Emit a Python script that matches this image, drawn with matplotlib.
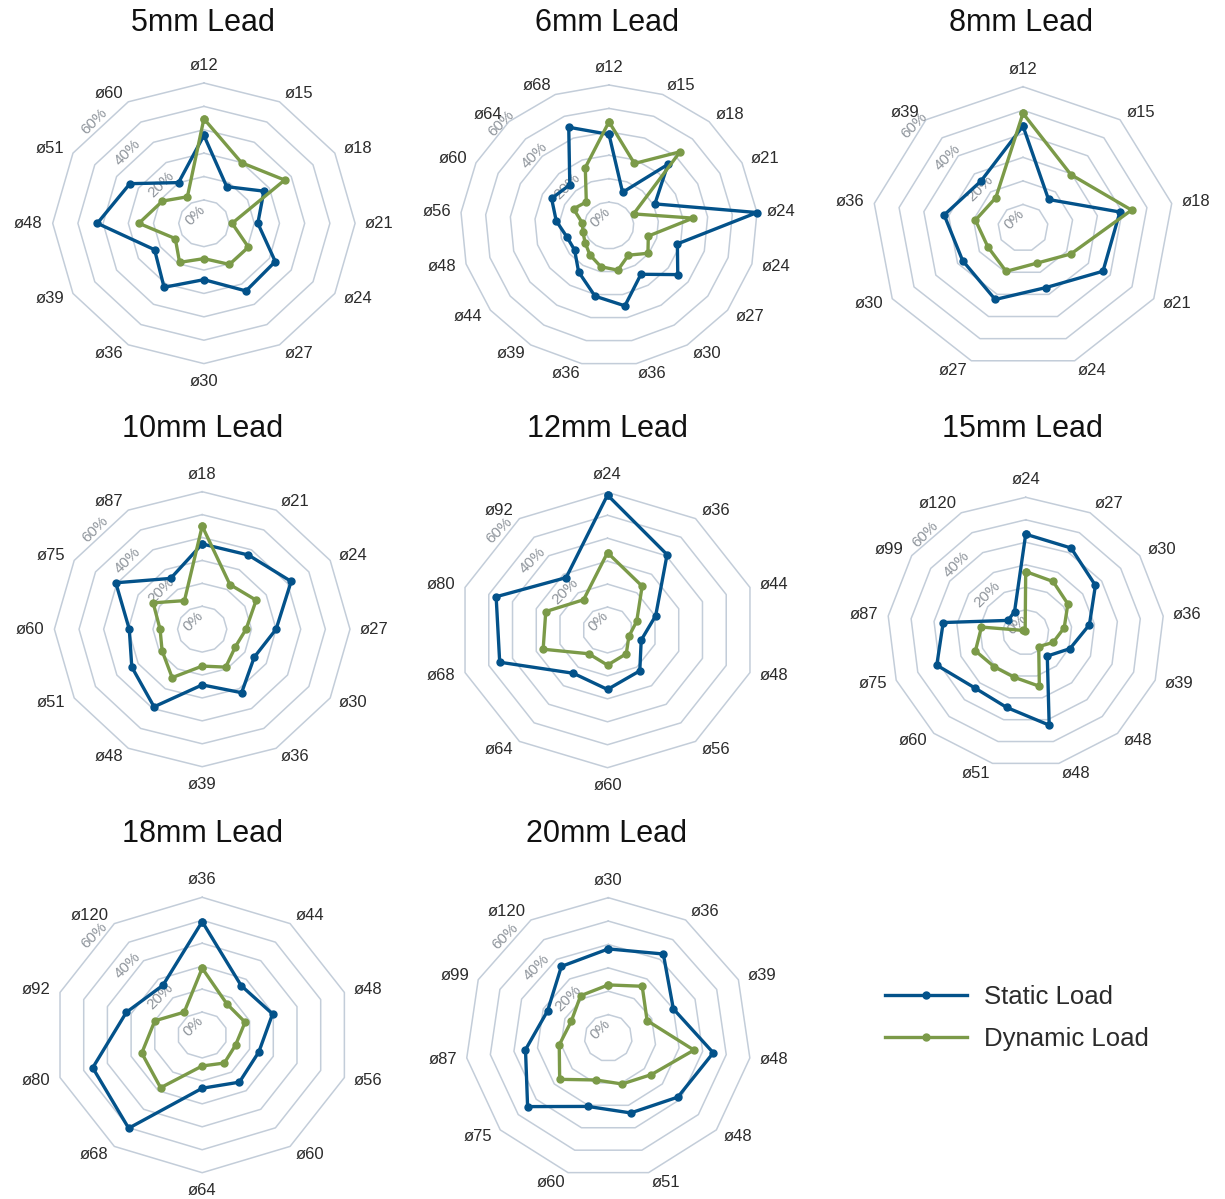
import numpy as np
import matplotlib
matplotlib.use("Agg")
import matplotlib.pyplot as plt
from matplotlib.transforms import offset_copy

plt.rcParams['font.family'] = ['Liberation Sans', 'DejaVu Sans']

# ---------------- data ----------------
titles = ["5mm Lead", "6mm Lead", "8mm Lead", "10mm Lead", "12mm Lead",
          "15mm Lead", "18mm Lead", "20mm Lead"]

cats_5 = ["ø12", "ø15", "ø18", "ø21", "ø24", "ø27", "ø30", "ø36", "ø39", "ø48", "ø51", "ø60"]
static_5 = [37.6, 18.1, 27.5, 21.4, 32.7, 33.4, 24.1, 31.6, 22.6, 42.3, 33.9, 20.1]
dynamic_5 = [44.7, 29.9, 37.0, 11.2, 20.4, 20.3, 15.1, 19.3, 13.1, 25.8, 19.0, 13.1]

cats_6 = ["ø12", "ø15", "ø18", "ø21", "ø24", "ø24", "ø27", "ø30", "ø36", "ø36", "ø39",
          "ø44", "ø48", "ø56", "ø60", "ø64", "ø68"]
static_6 = [38.9, 15.2, 35.3, 20.7, 60.0, 28.7, 34.8, 24.5, 34.9, 30.7, 23.3, 17.4, 17.7,
            21.4, 25.9, 23.5, 45.0]
dynamic_6 = [44.3, 28.4, 42.6, 11.1, 34.1, 16.5, 19.7, 14.9, 19.4, 17.9, 14.7, 12.1, 10.9,
             10.8, 16.0, 13.6, 26.5]

cats_8 = ["ø12", "ø15", "ø18", "ø21", "ø24", "ø27", "ø30", "ø36", "ø39"]
static_8 = [43.3, 15.8, 39.1, 36.7, 26.9, 32.3, 27.7, 31.8, 26.0]
dynamic_8 = [48.7, 29.6, 43.8, 22.0, 15.9, 19.6, 16.1, 19.2, 16.8]

cats_10 = ["ø18", "ø21", "ø24", "ø27", "ø30", "ø36", "ø39", "ø48", "ø51", "ø60", "ø75", "ø87"]
static_10 = [37.2, 37.4, 41.7, 30.0, 24.4, 32.0, 24.3, 39.1, 33.0, 29.6, 40.5, 25.6]
dynamic_10 = [45.0, 22.5, 25.3, 17.8, 15.5, 19.1, 16.1, 24.4, 18.8, 17.1, 23.0, 14.4]

cats_12 = ["ø24", "ø36", "ø44", "ø48", "ø56", "ø60", "ø64", "ø68", "ø80", "ø92"]
static_12 = [58.8, 40.6, 20.3, 14.2, 22.0, 25.9, 23.3, 45.4, 46.9, 28.2]
dynamic_12 = [33.7, 23.6, 12.3, 9.0, 12.8, 15.3, 12.8, 27.1, 26.0, 16.3]

cats_15 = ["ø24", "ø27", "ø30", "ø36", "ø39", "ø48", "ø48", "ø51", "ø60", "ø75", "ø87",
           "ø99", "ø120"]
static_15 = [43.6, 42.3, 36.7, 27.8, 20.5, 14.1, 42.5, 34.4, 33.1, 41.2, 36.0, 9.3, 10.4]
dynamic_15 = [27.0, 25.5, 22.2, 16.8, 12.7, 8.5, 24.7, 20.6, 20.5, 23.3, 19.3, 1.5, 0.5]

cats_18 = ["ø36", "ø44", "ø48", "ø56", "ø60", "ø64", "ø68", "ø80", "ø92", "ø120"]
static_18 = [49.4, 26.6, 29.7, 23.9, 25.4, 23.2, 50.2, 46.2, 32.0, 26.8]
dynamic_18 = [29.1, 16.8, 18.1, 14.1, 15.1, 13.5, 28.4, 25.5, 20.0, 12.3]

cats_20 = ["ø30", "ø36", "ø39", "ø48", "ø48", "ø51", "ø60", "ø75", "ø87", "ø99", "ø120"]
static_20 = [38.1, 42.7, 30.0, 44.5, 38.6, 33.4, 30.5, 44.8, 35.1, 28.0, 36.4]
dynamic_20 = [22.7, 26.3, 17.9, 36.3, 23.9, 20.5, 18.7, 27.0, 20.8, 17.1, 21.5]

ring_levels = [10, 20, 30, 40, 50, 60]
tick_values = [0, 20, 40, 60]
series_names = ["Static Load", "Dynamic Load"]

panels = [
    (cats_5, static_5, dynamic_5),
    (cats_6, static_6, dynamic_6),
    (cats_8, static_8, dynamic_8),
    (cats_10, static_10, dynamic_10),
    (cats_12, static_12, dynamic_12),
    (cats_15, static_15, dynamic_15),
    (cats_18, static_18, dynamic_18),
    (cats_20, static_20, dynamic_20),
]

# ---------------- layout / style ----------------
W, H = 1225, 1199
# centre x, centre y, radius x, radius y (pixels)
layout = [(203.9, 223.3, 151.2, 140.3), (609.0, 225.5, 148.6, 140.5),
          (1023.0, 228.0, 151.0, 141.3), (202.2, 629.2, 147.8, 137.5),
          (607.5, 630.0, 149.8, 137.7), (1025.7, 632.3, 138.5, 135.0),
          (202.2, 1035.0, 149.5, 137.7), (608.3, 1038.0, 143.0, 140.3)]
title_pos = [(203, 23), (607, 23), (1021, 23), (203, 429), (607, 429), (1022, 429),
             (203, 834), (607, 834)]

BLUE = "#03528a"
GREEN = "#7b9a48"
GRID = "#c3cdd9"
TICKC = "#8f959c"
TEXTC = "#2b2b2b"

fig = plt.figure(figsize=(W / 100, H / 100), dpi=100)

handles = None
for (cats, stat, dyn), (cx, cy, rx, ry), title, (tx, ty) in zip(panels, layout, titles, title_pos):
    ax = fig.add_axes([(cx - rx) / W, 1 - (cy + ry) / H, 2 * rx / W, 2 * ry / H],
                      projection='polar')
    ax.set_aspect('auto')
    ax.set_theta_zero_location('N')
    ax.set_theta_direction(-1)
    ax.set_ylim(0, 60)
    ax.set_xticks([])
    ax.set_yticks([])
    ax.grid(False)
    ax.spines['polar'].set_visible(False)
    ax.patch.set_alpha(0)

    n = len(cats)
    theta = np.arange(n) * 2 * np.pi / n
    tc = np.append(theta, theta[0])
    for r in ring_levels:
        ax.plot(tc, [r] * (n + 1), color=GRID, lw=1.1, zorder=1, clip_on=False)

    # radial tick labels along the upper-left diagonal
    for v in tick_values:
        ax.text(7 * np.pi / 4, v * 0.94 + 5, f"{v}%", rotation=45,
                rotation_mode='anchor', ha='center', va='center',
                fontsize=11, color=TICKC, zorder=1.5)

    # category labels
    pad = 10
    for k, lab in enumerate(cats):
        s, c = np.sin(theta[k]), np.cos(theta[k])
        ha = 'center' if abs(s) < 0.05 else ('left' if s > 0 else 'right')
        va = 'bottom' if c > 0.99 else ('top' if c < -0.99 else 'center')
        tr = offset_copy(ax.transData, fig=fig, x=pad * s, y=pad * c, units='dots')
        ax.text(theta[k], 60, lab, transform=tr, ha=ha, va=va, fontsize=12,
                color=TEXTC, clip_on=False)

    l1, = ax.plot(tc, list(stat) + [stat[0]], color=BLUE, lw=2.4, marker='o', ms=5,
                  zorder=3, clip_on=False, label=series_names[0])
    l2, = ax.plot(tc, list(dyn) + [dyn[0]], color=GREEN, lw=2.4, marker='o', ms=5,
                  zorder=4, clip_on=False, label=series_names[1])
    handles = [l1, l2]

    fig.text(tx / W, 1 - ty / H, title, ha='center', va='center', fontsize=22,
             color='#111111')

fig.legend(handles=handles, labels=series_names, loc='center left',
           bbox_to_anchor=(885 / W, 1 - 1018 / H), frameon=False, fontsize=18.5,
           handlelength=3.2, handletextpad=0.65, labelspacing=0.72,
           borderpad=0, borderaxespad=0, labelcolor=TEXTC)

fig.savefig("out.png", dpi=100)
